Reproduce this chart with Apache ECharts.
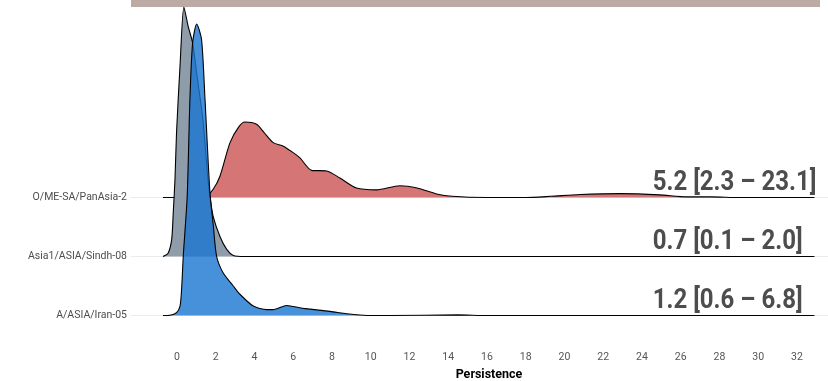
<!DOCTYPE html>
<html>
<head>
<meta charset="utf-8">
<script src="https://cdn.jsdelivr.net/npm/echarts@6/dist/echarts.min.js"></script>
<style>
  html, body { margin: 0; padding: 0; background: #fff; }
  #chart { width: 828px; height: 381px; }
</style>
</head>
<body>
<div id="chart"></div>
<script>
// rows from bottom to top, baseline of row i sits at y = i
const rowNames = ['A/ASIA/Iran-05', 'Asia1/ASIA/Sindh-08', 'O/ME-SA/PanAsia-2'];
const rowLabels = ['1.2 [0.6 – 6.8]', '0.7 [0.1 – 2.0]', '5.2 [2.3 – 23.1]'];
const rowFills = ['rgba(25, 118, 210, 0.8)', '#8f9caa', '#d57575'];
const xTicks = [0, 2, 4, 6, 8, 10, 12, 14, 16, 18, 20, 22, 24, 26, 28, 30, 32];

// density height per row, [persistence, height in row units]
const iranDensity = [
  [-0.72, 0], [-0.36, 0.005], [-0.02, 0.05], [0.16, 0.16], [0.24, 0.44], [0.33, 1.02],
  [0.53, 2.02], [0.67, 3.66], [0.81, 4.62], [1.02, 4.94], [1.27, 4.68], [1.45, 3.66],
  [1.70, 2.1], [1.87, 1.55], [2.05, 1.0], [2.39, 0.72], [2.91, 0.50], [3.25, 0.36],
  [3.94, 0.16], [4.63, 0.10], [4.97, 0.10], [5.66, 0.17], [6.35, 0.13], [6.52, 0.12],
  [7.90, 0.07], [8.76, 0.03], [9.62, 0.005], [11, 0], [14.5, 0.01], [16, 0], [32.9, 0]
];
const sindhDensity = [
  [-0.72, 0], [-0.45, 0.06], [-0.27, 0.29], [-0.19, 0.74], [-0.10, 1.31], [-0.02, 2.10],
  [0.16, 3.23], [0.36, 4.23], [0.58, 3.90], [0.81, 3.62], [1.03, 3.08], [1.34, 2.32],
  [1.60, 1.31], [1.70, 1.02], [1.87, 0.68], [2.22, 0.34], [2.57, 0.12], [2.91, 0.017],
  [3.5, 0], [32.9, 0]
];
const panAsiaDensity = [
  [-0.72, 0], [1.0, 0], [1.5, 0.02], [1.87, 0.14], [2.22, 0.36], [2.74, 0.93], [3.2, 1.2],
  [3.51, 1.28], [4.11, 1.24], [4.5, 1.1], [4.97, 0.93], [5.49, 0.87], [6.0, 0.76],
  [6.35, 0.67], [6.95, 0.46], [7.73, 0.45], [8.41, 0.33], [9.27, 0.16], [10.3, 0.13],
  [11.5, 0.2], [12.4, 0.16], [13.4, 0.06], [14.2, 0.02], [16, 0], [18, 0], [19.3, 0.02],
  [20.8, 0.05], [22.9, 0.065], [24.9, 0.045], [26.3, 0.01], [27.6, 0.01], [29, 0], [32.9, 0]
];
const densities = [iranDensity, sindhDensity, panAsiaDensity];
const labelX = 24.55;

const chart = echarts.init(document.getElementById('chart'));

const font = 'Roboto, "Noto Sans", sans-serif';

// ggridges draws the top row first so lower rows overlap it
const ridgeSeries = rowNames.map((name, i) => ({
  name,
  type: 'line',
  z: 6 + (rowNames.length - 1 - i),
  smooth: 0.25,
  symbol: 'none',
  silent: true,
  lineStyle: { color: '#000', width: 1.1 },
  areaStyle: { color: rowFills[i], opacity: 1, origin: i },
  data: densities[i].map(([x, h]) => [x, i + h])
})).reverse();

chart.setOption({
  animation: false,
  grid: { left: 131, right: 0, top: 0, bottom: 41, outerBoundsMode: 'none' },
  xAxis: {
    type: 'value',
    min: -2.37,
    max: 33.6,
    axisLine: { show: false },
    axisTick: { show: false },
    splitLine: { show: false },
    axisLabel: {
      customValues: xTicks,
      color: '#555',
      fontSize: 10.5,
      fontFamily: font,
      margin: 12
    },
    name: 'Persistence',
    nameLocation: 'middle',
    nameGap: 27,
    nameTextStyle: { color: '#000', fontWeight: 'bold', fontSize: 12.5, fontFamily: font, padding: [0, 0, 0, 19] }
  },
  yAxis: {
    type: 'value',
    min: -0.4153,
    max: 5.3474,
    axisLine: { show: false },
    axisTick: { show: false },
    splitLine: { show: false },
    axisLabel: {
      customValues: rowNames.map((n, i) => i),
      formatter: v => rowNames[Math.round(v)] || '',
      color: '#4d4d4d',
      fontSize: 10.5,
      fontFamily: font,
      margin: 4
    }
  },
  series: [
    {
      name: 'grid',
      type: 'line',
      z: 1,
      data: [],
      markLine: {
        z: 1,
        silent: true,
        symbol: 'none',
        label: { show: false },
        lineStyle: { color: '#ebebeb', width: 1, type: 'solid' },
        data: rowNames.map((n, i) => ({ yAxis: i }))
      }
    },
    ...ridgeSeries
  ]
});

const grid = chart.getModel().getComponent('grid').coordinateSystem.getRect();

chart.setOption({
  graphic: [
    {
      type: 'rect',
      shape: { x: grid.x, y: 0, width: 689, height: 7 },
      style: { fill: '#bcaaa4' },
      silent: true
    },
    ...rowLabels.map((text, i) => {
      const [px, py] = chart.convertToPixel({ gridIndex: 0 }, [labelX, i]);
      return {
        type: 'text',
        x: px,
        y: py - 1,
        scaleX: 0.89,
        z: 10,
        silent: true,
        style: {
          text,
          fill: '#4d4d4d',
          font: 'bold 27px ' + font,
          textAlign: 'left',
          textVerticalAlign: 'bottom'
        }
      };
    })
  ]
});
</script>
</body>
</html>
